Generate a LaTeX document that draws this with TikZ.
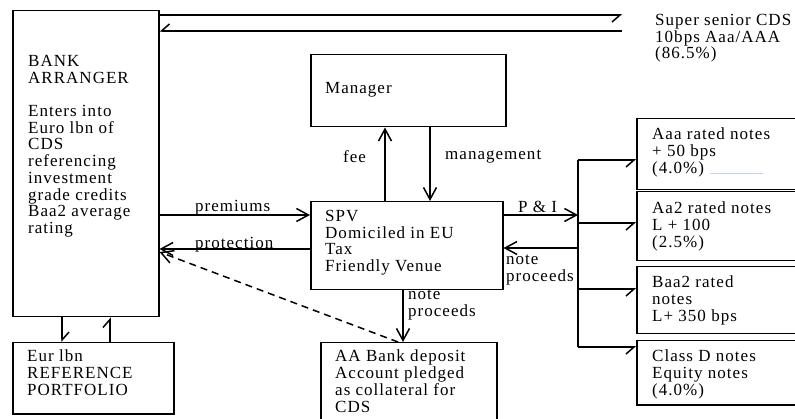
\documentclass[tikz,border=0pt]{standalone}
\usepackage{fontspec}
\setmainfont[LetterSpace=6]{Liberation Serif}
\usetikzlibrary{arrows.meta}
\definecolor{faintblue}{RGB}{196,210,232}

\begin{document}
\begin{tikzpicture}[x=1pt,y=-1pt,
  font=\fontsize{17}{16.7}\selectfont,
  box/.style={draw,line width=1.5pt,anchor=north west,inner sep=0pt},
  txt/.style={anchor=north west,inner sep=0pt,align=left,execute at begin node=\strut},
  arr/.style={line width=1.5pt,-{Straight Barb[length=12pt,width=13pt]}},
  harp/.style={line width=1.5pt,-{Straight Barb[harpoon,swap,length=8pt,width=14pt]}},
  harpsw/.style={line width=1.5pt,-{Straight Barb[harpoon,length=8pt,width=14pt]}}]
\useasboundingbox (0,0) rectangle (795,419);

% boxes
\node[box,minimum width=146pt,minimum height=306pt] (bank) at (12,10) {};
\node[box,minimum width=161pt,minimum height=71pt] (ref) at (12,342) {};
\node[box,minimum width=195pt,minimum height=72pt] (mgr) at (310,54) {};
\node[box,minimum width=192pt,minimum height=88pt] (spv) at (310,201) {};
\node[box,minimum width=176pt,minimum height=100pt] (dep) at (320,342) {};
\node[box,minimum width=184pt,minimum height=71pt] (n1) at (636,118) {};
\node[box,minimum width=184pt,minimum height=69pt] (n2) at (636,191) {};
\node[box,minimum width=184pt,minimum height=67pt] (n3) at (636,266) {};
\node[box,minimum width=184pt,minimum height=64pt] (n4) at (636,340) {};

% texts
\node[txt] (banktxt) at (28,55) {BANK\\ARRANGER\\[16.7pt]Enters into\\Euro lbn of\\CDS\\referencing\\investment\\grade credits\\Baa2 average\\rating};
\node[txt] (reftxt) at (27,350) {Eur lbn\\REFERENCE\\PORTFOLIO};
\node[txt] (mgrtxt) at (325,82) {Manager};
\node[txt] (spvtxt) at (325,210) {SPV\\Domiciled in EU\\Tax\\Friendly Venue};
\node[txt] (deptxt) at (335,350) {AA Bank deposit\\Account pledged\\as collateral for\\CDS};
\node[txt] (cdstxt) at (655,14) {Super senior CDS\\10bps Aaa/AAA\\(86.5\%)};
\node[txt] (n1txt) at (652,128) {Aaa rated notes\\+ 50 bps\\(4.0\%)};
\node[txt] (n2txt) at (652,202) {Aa2 rated notes\\L + 100\\(2.5\%)};
\node[txt] (n3txt) at (652,276) {Baa2 rated\\notes\\L+ 350 bps};
\node[txt] (n4txt) at (652,350) {Class D notes\\Equity notes\\(4.0\%)};
\draw[faintblue,line width=1pt] (710,174) -- (763,174);

% labels
\node[txt] (fee) at (343,150) {fee};
\node[txt] (mgmt) at (445,148) {management};
\node[txt] (prem) at (195,200) {premiums};
\node[txt] (prot) at (195,237) {protection};
\node[txt] (pi) at (518,201) {P \& I};
\node[txt] (npr) at (506,255) {note\\proceeds};
\node[txt] (npd) at (408,290) {note\\proceeds};

% super senior lines
\coordinate (cds) at (622,15);
\coordinate (cdsb) at (622,31);
\draw[harp] (bank.north east |- cds) -- (cds);
\draw[harp] (cdsb) -- (bank.north east |- cdsb);

% manager
\draw[arr] (spv.north -| 385,0) -- (mgr.south -| 385,0);
\draw[arr] (mgr.south -| 430,0) -- (spv.north -| 430,0);

% bank and spv
\draw[arr] (bank.east |- 0,215) -- (spv.west |- 0,215);
\draw[arr] (spv.west |- 0,249) -- (bank.east |- 0,249);
\draw[arr,dash pattern=on 7pt off 5pt] (dep.north -| 398,0) -- (bank.east |- 0,252);
\draw[arr] (spv.south -| 403,0) -- (dep.north -| 403,0);

% notes
\coordinate (bustop) at (578,160);
\coordinate (busbot) at (578,347);
\draw[line width=1.5pt] (bustop) -- (busbot);
\draw[arr] (spv.east |- 0,215) -- (bustop |- 0,215);
\draw[arr] (bustop |- 0,248) -- (spv.east |- 0,248);
\foreach\n/\y in {n1/160, n2/223, n3/289, n4/347}
\draw[harp] (bustop |- 0,\y) -- (\n.west |- 0,\y);

% portfolio
\draw[harpsw] (bank.south -| 62,0) -- (ref.north -| 62,0);
\draw[harpsw] (ref.north -| 110,0) -- (bank.south -| 110,0);
\end{tikzpicture}
\end{document}
